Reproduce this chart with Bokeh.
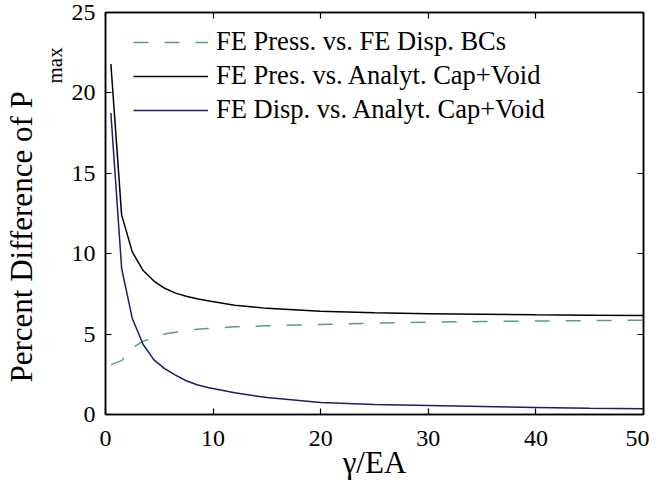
from bokeh.plotting import figure
from bokeh.models import Range1d, LinearAxis, FixedTicker, Legend, LegendItem, Title
from bokeh.embed import file_html
from bokeh.resources import INLINE

# ---- data ----
gamma_ea = [0.5, 1.5, 2.5, 3.5, 4.5, 5.5, 6.5, 7.5, 8.5, 9.5, 12, 15, 20, 25, 30, 35, 40, 45, 50]
fe_press_vs_fe_disp = [3.1, 3.35, 4.15, 4.55, 4.8, 5.0, 5.12, 5.22, 5.3, 5.35, 5.45, 5.52, 5.6, 5.68, 5.74, 5.78, 5.81, 5.84, 5.86]
fe_pres_vs_analyt = [21.8, 12.4, 10.1, 8.95, 8.3, 7.85, 7.55, 7.35, 7.2, 7.07, 6.8, 6.6, 6.42, 6.32, 6.27, 6.23, 6.2, 6.18, 6.16]
fe_disp_vs_analyt = [18.75, 9.08, 5.95, 4.35, 3.4, 2.85, 2.45, 2.1, 1.85, 1.68, 1.35, 1.05, 0.75, 0.62, 0.56, 0.5, 0.44, 0.39, 0.36]
legend_labels = ["FE Press. vs. FE Disp. BCs", "FE Pres. vs. Analyt. Cap+Void", "FE Disp. vs. Analyt. Cap+Void"]
x_ticks = [0, 10, 20, 30, 40, 50]
y_ticks = [0, 5, 10, 15, 20, 25]
x_title = "γ/EA"
y_title = "Percent Difference of P"
y_title_sub = "max"

FONT = "Liberation Serif"
TICK_FS = "24px"

p = figure(width=649, height=490, output_backend="svg", toolbar_location=None,
           x_range=Range1d(0, 50), y_range=Range1d(0, 25),
           min_border_left=105, min_border_right=6, min_border_top=12, min_border_bottom=76,
           x_axis_location=None, y_axis_location=None)
p.background_fill_color = "white"
p.border_fill_color = "white"
p.outline_line_color = "black"
p.outline_line_width = 1.5
p.grid.visible = False


def style_axis(ax, ticks, show_labels, standoff=10):
    ax.ticker = FixedTicker(ticks=ticks)
    ax.axis_line_color = "black"
    ax.axis_line_width = 1.5
    ax.major_tick_in = 6
    ax.major_tick_out = 0
    ax.major_tick_line_width = 1.2
    ax.minor_tick_line_color = None
    if show_labels:
        ax.major_label_text_font = FONT
        ax.major_label_text_font_size = TICK_FS
        ax.major_label_text_color = "black"
        ax.major_label_standoff = standoff
    else:
        ax.major_label_text_font_size = "0px"
        ax.major_label_text_color = None
        ax.major_label_standoff = 0


xb = LinearAxis(); style_axis(xb, x_ticks, True, 16)
xb.axis_label = x_title
xb.axis_label_text_font = FONT
xb.axis_label_text_font_size = "31px"
xb.axis_label_text_font_style = "normal"
xb.axis_label_text_color = "black"
xb.axis_label_standoff = -4
p.add_layout(xb, "below")

yl = LinearAxis(); style_axis(yl, y_ticks, True, 10); p.add_layout(yl, "left")
xt = LinearAxis(); style_axis(xt, x_ticks, False); p.add_layout(xt, "above")
yr = LinearAxis(); style_axis(yr, y_ticks, False); p.add_layout(yr, "right")

# y-axis title: subscript part (closer to the frame) and main part (outermost)
p.add_layout(Title(text=y_title_sub, align="left", offset=331, standoff=4,
                   vertical_align="bottom", text_font=FONT, text_font_size="21px",
                   text_font_style="normal", text_color="black"), "left")
p.add_layout(Title(text=y_title, align="left", offset=32, standoff=0,
                   vertical_align="bottom", text_font=FONT, text_font_size="31px",
                   text_font_style="normal", text_color="black"), "left")

r1 = p.line(gamma_ea, fe_press_vs_fe_disp, line_color="#5a9898", line_width=1.5, line_dash="15 16")
r2 = p.line(gamma_ea, fe_pres_vs_analyt, line_color="black", line_width=1.5)
r3 = p.line(gamma_ea, fe_disp_vs_analyt, line_color="#1c1c6c", line_width=1.5)

legend = Legend(items=[LegendItem(label=legend_labels[0], renderers=[r1]),
                       LegendItem(label=legend_labels[1], renderers=[r2]),
                       LegendItem(label=legend_labels[2], renderers=[r3])],
                location=(28, 289), border_line_color=None, background_fill_alpha=0,
                label_text_font=FONT, label_text_font_size="26.5px", label_text_color="black",
                glyph_width=75, glyph_height=20, label_standoff=8, spacing=3,
                padding=0, margin=0, label_text_baseline="middle")
p.add_layout(legend)

open("out.html", "w").write(file_html(p, INLINE))
